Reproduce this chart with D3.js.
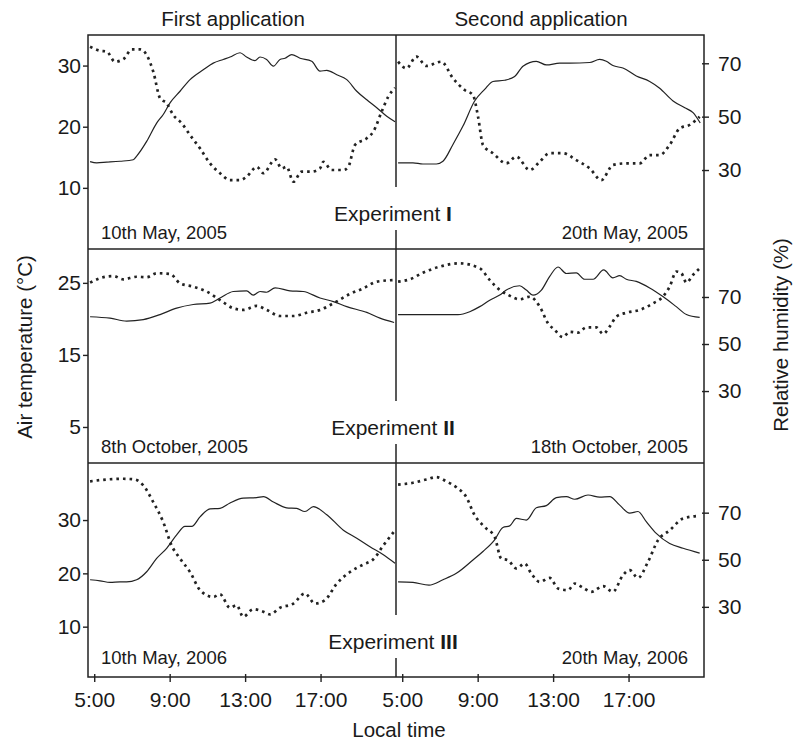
<!DOCTYPE html>
<html lang="en">
<head>
<meta charset="utf-8">
<title>Air temperature and relative humidity during the experiments</title>
<script src="https://cdn.jsdelivr.net/npm/d3@7"></script>
<style>
  body { margin: 0; background: #fff; }
  svg text { font-family: "Liberation Sans", Arial, Helvetica, sans-serif; fill: #1a1a1a; }
</style>
</head>
<body>
<script>
// [local time (h), value]
var exp1FirstTemp = [[4.78,14.3],[5.13,14.1],[5.66,14.2],[6.37,14.35],[7.07,14.6],[7.25,15.2],[7.78,17.6],[8.31,20.6],[8.66,22.0],[9.02,23.9],[9.55,25.8],[10.08,27.7],[10.78,29.3],[11.31,30.4],[11.84,31.0],[12.2,31.4],[12.73,32.1],[13.08,31.4],[13.52,30.8],[13.79,31.4],[14.14,31.0],[14.5,29.9],[14.85,31.0],[15.12,31.2],[15.47,31.8],[15.91,31.2],[16.53,30.7],[16.97,29.1],[17.33,29.2],[17.86,28.5],[18.39,27.7],[18.92,25.8],[19.45,24.4],[19.98,23.1],[20.51,21.7],[20.95,20.8]];
var exp1FirstRH = [[4.78,76.2],[5.31,74.7],[5.66,74.4],[6.1,70.6],[6.54,71.5],[6.99,75.2],[7.43,75.2],[7.78,73.1],[8.13,66.9],[8.49,56.9],[8.84,55.0],[9.19,50.6],[9.64,47.5],[10.08,43.1],[10.61,38.1],[11.14,32.5],[11.67,28.8],[12.2,26.2],[12.73,26.2],[13.08,27.5],[13.62,31.2],[13.97,28.8],[14.59,34.0],[14.94,30.6],[15.2,31.2],[15.56,25.6],[16.0,29.4],[16.53,29.4],[16.97,30.6],[17.15,33.1],[17.59,30.0],[18.21,30.0],[18.47,31.2],[18.83,39.4],[19.45,41.9],[19.8,44.4],[20.24,51.9],[20.59,57.5],[20.95,60.8]];
var exp1SecondTemp = [[4.78,14.1],[5.57,14.1],[6.1,13.9],[6.81,13.9],[7.16,14.35],[7.69,17.1],[8.22,20.1],[8.84,24.2],[9.37,26.1],[9.81,27.4],[10.43,27.6],[10.96,28.2],[11.4,29.9],[12.11,30.7],[12.64,30.1],[13.35,30.4],[13.88,30.4],[14.94,30.5],[15.47,31.0],[15.82,30.7],[16.17,30.0],[16.7,29.6],[17.41,28.3],[18.12,27.4],[18.65,26.3],[19.36,24.2],[19.98,23.1],[20.42,22.3],[20.8,20.6]];
var exp1SecondRH = [[4.78,70.6],[5.22,68.1],[5.75,72.5],[6.28,69.0],[7.07,70.6],[7.69,64.4],[8.31,60.0],[8.75,58.1],[9.02,50.0],[9.28,39.4],[9.81,36.3],[10.52,32.5],[11.05,35.0],[11.76,30.0],[12.29,33.1],[12.82,36.3],[13.52,36.3],[14.23,33.7],[14.94,30.6],[15.56,26.2],[16.17,31.9],[16.88,32.5],[17.59,32.5],[18.12,35.6],[18.65,35.6],[19.18,39.4],[19.71,45.6],[20.24,46.9],[20.77,50.0]];

var exp2FirstTemp = [[4.78,20.3],[5.84,20.1],[6.72,19.7],[7.6,19.9],[8.49,20.6],[9.37,21.5],[10.25,22.0],[11.14,22.2],[11.67,22.9],[12.37,23.8],[13.08,23.9],[13.43,23.3],[13.79,23.8],[14.14,23.7],[14.59,24.3],[15.38,23.9],[16.08,23.8],[16.97,22.9],[17.68,22.4],[18.39,21.7],[19.45,20.9],[20.15,20.1],[20.9,19.5]];
var exp2FirstRH = [[4.78,76.1],[5.31,78.0],[6.01,78.9],[6.54,77.5],[7.25,78.6],[7.78,78.4],[8.31,80.1],[9.02,79.8],[9.55,75.8],[10.25,74.4],[10.96,72.3],[11.67,68.7],[12.37,65.2],[12.9,64.5],[13.61,66.2],[14.14,64.5],[14.85,61.9],[15.56,61.9],[16.26,63.3],[16.97,64.5],[17.68,67.3],[18.56,71.3],[19.27,73.7],[19.98,76.5],[20.9,77.2]];
var exp2SecondTemp = [[4.78,20.6],[6.28,20.6],[7.96,20.6],[8.58,21.0],[9.11,21.7],[9.64,22.6],[10.17,23.3],[10.52,24.0],[11.23,24.6],[11.58,24.0],[11.93,23.3],[12.38,24.0],[12.82,25.9],[13.26,27.2],[13.7,26.3],[14.23,26.4],[14.67,25.5],[15.12,25.5],[15.68,26.8],[16.17,25.7],[16.53,26.0],[16.88,25.5],[17.41,25.2],[18.12,24.3],[18.82,23.1],[19.53,21.7],[20.07,20.6],[20.77,20.2]];
var exp2SecondRH = [[4.78,76.5],[5.4,77.5],[6.1,80.3],[6.99,82.9],[8.04,84.3],[9.11,82.2],[9.64,77.2],[10.17,73.0],[10.61,70.9],[11.23,69.0],[11.76,70.1],[12.29,65.9],[12.73,58.8],[13.08,56.0],[13.52,52.9],[13.88,55.2],[14.32,54.8],[14.76,57.1],[15.29,57.1],[15.65,54.3],[16.0,57.4],[16.35,61.6],[16.88,63.3],[17.59,64.5],[18.3,67.3],[18.82,70.1],[19.18,74.4],[19.53,80.8],[19.8,80.1],[20.07,76.1],[20.42,79.4],[20.77,82.2]];

var exp3FirstTemp = [[4.78,18.8],[5.31,18.6],[5.84,18.3],[6.37,18.4],[6.72,18.4],[7.25,18.8],[7.78,20.3],[8.31,22.8],[8.84,24.7],[9.37,27.2],[9.81,28.8],[10.17,28.8],[10.61,30.6],[11.14,32.1],[11.67,32.2],[12.2,33.2],[12.9,34.1],[13.61,34.2],[13.97,34.4],[14.5,33.4],[15.2,32.3],[15.73,32.2],[16.17,31.6],[16.62,32.5],[17.33,31.0],[18.21,28.1],[18.92,26.6],[19.62,25.0],[20.33,23.5],[20.95,21.9]];
var exp3FirstRH = [[4.78,83.3],[5.66,84.1],[6.54,84.4],[7.16,84.1],[7.6,81.6],[8.13,74.5],[8.66,66.0],[9.1,56.1],[9.55,50.5],[10.08,44.8],[10.61,37.1],[11.31,34.2],[11.67,35.3],[12.2,29.6],[12.55,30.7],[12.9,25.8],[13.43,29.0],[13.97,27.9],[14.32,26.8],[14.85,29.6],[15.56,31.4],[16.17,35.7],[16.7,31.4],[17.23,32.8],[17.86,39.9],[18.56,44.8],[19.27,48.0],[19.8,50.2],[20.33,56.1],[20.95,62.5]];
var exp3SecondTemp = [[4.78,18.4],[5.57,18.3],[6.42,17.8],[7.16,18.8],[7.87,20.0],[8.75,22.5],[9.28,24.1],[9.9,26.3],[10.34,28.6],[10.7,28.9],[11.05,30.3],[11.58,30.0],[12.11,32.3],[12.64,32.7],[13.17,34.2],[13.7,34.4],[14.15,33.9],[14.85,34.7],[15.47,34.3],[16.0,34.4],[16.53,32.8],[17.06,31.3],[17.5,31.6],[17.94,29.7],[18.47,27.5],[19.18,25.6],[19.89,24.7],[20.77,23.8]];
var exp3SecondRH = [[4.78,81.9],[5.57,82.7],[6.28,84.1],[6.81,85.1],[7.34,83.3],[7.87,80.8],[8.4,76.6],[8.84,68.9],[9.37,63.9],[9.9,59.7],[10.25,50.5],[10.61,49.8],[11.05,46.3],[11.49,48.4],[11.84,44.2],[12.29,40.6],[12.82,42.3],[13.26,37.8],[13.79,37.1],[14.15,39.9],[14.59,38.1],[15.03,36.4],[15.65,38.8],[16.17,36.4],[16.7,43.4],[17.06,45.6],[17.5,42.3],[18.03,49.1],[18.56,58.3],[19.18,62.5],[19.89,67.5],[20.68,68.6]];

var applications = ["First application", "Second application"];
var experiments = ["I", "II", "III"];
var dates = [["10th May, 2005", "20th May, 2005"], ["8th October, 2005", "18th October, 2005"], ["10th May, 2006", "20th May, 2006"]];
var timeTicks = [5, 9, 13, 17];
var tempTicks = [[10, 20, 30], [5, 15, 25], [10, 20, 30]];
var rhTicks = [30, 50, 70];
var tempDomains = [[0, 35], [0, 29.7], [0.56, 40.7]];
var rhDomains = [[0.4, 80.6], [-0.6, 90.4], [0.2, 91.1]];

var tempSeries = [[exp1FirstTemp, exp1SecondTemp], [exp2FirstTemp, exp2SecondTemp], [exp3FirstTemp, exp3SecondTemp]];
var rhSeries = [[exp1FirstRH, exp1SecondRH], [exp2FirstRH, exp2SecondRH], [exp3FirstRH, exp3SecondRH]];

var w = 793, h = 742;
var plotLeft = 88, plotMid = 396, plotRight = 704, plotTop = 35, panelH = 214;
var plotBottom = plotTop + 3 * panelH;
var ink = "#222";

var svg = d3.select("body").append("svg")
    .attr("width", w)
    .attr("height", h);

var xScales = [
    d3.scaleLinear().domain([4.67, 21]).range([plotLeft, plotMid]),
    d3.scaleLinear().domain([4.67, 21]).range([plotMid, plotRight])
];

function styleAxis(g, size) {
    g.attr("font-size", size).attr("font-family", null).attr("color", ink);
    g.select(".domain").remove();
    g.selectAll(".tick line").attr("stroke-width", 1.4);
}

experiments.forEach(function(numeral, p) {
    var y0 = plotTop + p * panelH, y1 = y0 + panelH;
    var yTemp = d3.scaleLinear().domain(tempDomains[p]).range([y1, y0]);
    var yRH = d3.scaleLinear().domain(rhDomains[p]).range([y1, y0]);

    // left axis: air temperature
    svg.append("g")
        .attr("transform", "translate(" + plotLeft + ",0)")
        .call(d3.axisLeft(yTemp).tickValues(tempTicks[p]).tickSize(5).tickPadding(2))
        .call(styleAxis, 21);

    // right axis: relative humidity
    var rg = svg.append("g")
        .attr("transform", "translate(" + plotRight + ",0)")
        .call(d3.axisRight(yRH).tickValues(rhTicks).tickSize(5).tickPadding(9))
        .call(styleAxis, 21);
    rg.selectAll(".tick line").attr("x1", -2);

    [0, 1].forEach(function(half) {
        var x = xScales[half];
        var tempLine = d3.line()
            .x(function(d) { return x(d[0]); })
            .y(function(d) { return yTemp(d[1]); })
            .curve(d3.curveMonotoneX);
        var rhLine = d3.line()
            .x(function(d) { return x(d[0]); })
            .y(function(d) { return yRH(d[1]); })
            .curve(d3.curveMonotoneX);

        svg.append("path")
            .datum(tempSeries[p][half])
            .attr("d", tempLine)
            .attr("fill", "none")
            .attr("stroke", ink)
            .attr("stroke-width", 1.2);

        svg.append("path")
            .datum(rhSeries[p][half])
            .attr("d", rhLine)
            .attr("fill", "none")
            .attr("stroke", ink)
            .attr("stroke-width", 2.7)
            .attr("stroke-dasharray", "2.6,4");

        // date of the application
        svg.append("text")
            .attr("x", half === 0 ? plotLeft + 13 : plotRight - 16)
            .attr("y", y1 - (p === 2 ? 13 : 10))
            .attr("text-anchor", half === 0 ? "start" : "end")
            .attr("font-size", 18.5)
            .text(dates[p][half]);
    });

    var label = svg.append("text")
        .attr("x", 393)
        .attr("y", y0 + 186)
        .attr("text-anchor", "middle")
        .attr("font-size", 21)
        .text("Experiment ");
    label.append("tspan").attr("font-weight", "bold").text(numeral);

    // divider between the two applications, broken around the label
    svg.append("line")
        .attr("x1", plotMid).attr("x2", plotMid)
        .attr("y1", y0).attr("y2", y0 + 152)
        .attr("stroke", ink).attr("stroke-width", 1.5);
    svg.append("line")
        .attr("x1", plotMid).attr("x2", plotMid)
        .attr("y1", y0 + 195).attr("y2", y1)
        .attr("stroke", ink).attr("stroke-width", 1.5);

    if (p > 0) {
        svg.append("line")
            .attr("x1", plotLeft).attr("x2", plotRight)
            .attr("y1", y0).attr("y2", y0)
            .attr("stroke", ink).attr("stroke-width", 1.5);
    }
});

svg.append("rect")
    .attr("x", plotLeft).attr("y", plotTop)
    .attr("width", plotRight - plotLeft).attr("height", plotBottom - plotTop)
    .attr("fill", "none")
    .attr("stroke", ink)
    .attr("stroke-width", 1.5);

// time axes under both halves
xScales.forEach(function(x) {
    var g = svg.append("g")
        .attr("transform", "translate(0," + plotBottom + ")")
        .call(d3.axisBottom(x).tickValues(timeTicks).tickSize(5).tickPadding(10)
            .tickFormat(function(d) { return d + ":00"; }))
        .call(styleAxis, 21);
    g.selectAll(".tick line").attr("y1", -3);
});

applications.forEach(function(name, i) {
    var x = xScales[i];
    svg.append("text")
        .attr("x", (x.range()[0] + x.range()[1]) / 2 - 9)
        .attr("y", 26)
        .attr("text-anchor", "middle")
        .attr("font-size", 20.5)
        .text(name);
});

svg.append("text")
    .attr("transform", "translate(32,347) rotate(-90)")
    .attr("text-anchor", "middle")
    .attr("font-size", 20.5)
    .text("Air temperature (\u00b0C)");

svg.append("text")
    .attr("transform", "translate(788,335) rotate(-90)")
    .attr("text-anchor", "middle")
    .attr("font-size", 20.5)
    .text("Relative humidity (%)");

svg.append("text")
    .attr("x", 399)
    .attr("y", 737)
    .attr("text-anchor", "middle")
    .attr("font-size", 20.5)
    .text("Local time");
</script>
</body>
</html>
